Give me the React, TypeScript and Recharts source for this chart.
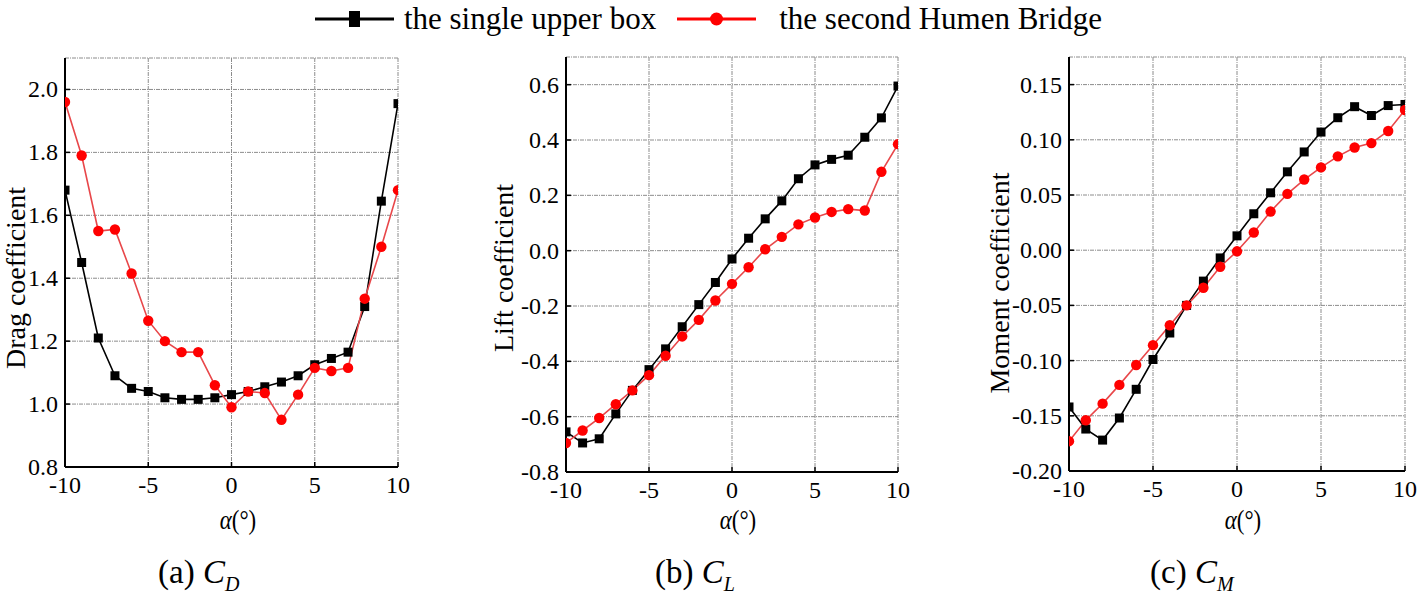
import React from 'react';
import { LineChart, Line, XAxis, YAxis, CartesianGrid, Label } from 'recharts';

// angle of attack (deg)
const alpha = [-10, -9, -8, -7, -6, -5, -4, -3, -2, -1, 0, 1, 2, 3, 4, 5, 6, 7, 8, 9, 10];

const dragBox = [1.68, 1.45, 1.21, 1.09, 1.05, 1.04, 1.02, 1.015, 1.015, 1.02, 1.03, 1.04, 1.055, 1.07, 1.09, 1.125, 1.145, 1.165, 1.31, 1.645, 1.955];
const dragBridge = [1.96, 1.79, 1.55, 1.555, 1.415, 1.265, 1.2, 1.165, 1.165, 1.06, 0.99, 1.04, 1.035, 0.95, 1.03, 1.115, 1.105, 1.115, 1.335, 1.5, 1.68];

const liftBox = [-0.655, -0.695, -0.68, -0.59, -0.505, -0.43, -0.355, -0.275, -0.195, -0.115, -0.03, 0.045, 0.115, 0.18, 0.26, 0.31, 0.33, 0.345, 0.41, 0.48, 0.595];
const liftBridge = [-0.695, -0.65, -0.605, -0.555, -0.505, -0.45, -0.38, -0.31, -0.25, -0.18, -0.12, -0.06, 0.005, 0.05, 0.095, 0.12, 0.14, 0.15, 0.145, 0.285, 0.385];

const momentBox = [-0.142, -0.162, -0.172, -0.152, -0.126, -0.099, -0.075, -0.05, -0.028, -0.007, 0.013, 0.033, 0.052, 0.071, 0.089, 0.107, 0.12, 0.13, 0.122, 0.131, 0.132];
const momentBridge = [-0.173, -0.154, -0.139, -0.122, -0.104, -0.086, -0.068, -0.05, -0.034, -0.015, -0.001, 0.016, 0.035, 0.051, 0.064, 0.075, 0.085, 0.093, 0.097, 0.108, 0.127];

const xMajor = [-10, -5, 0, 5, 10];
const xMinor = [-7.5, -2.5, 2.5, 7.5];

const dragMajor = [0.8, 1.0, 1.2, 1.4, 1.6, 1.8, 2.0];
const dragMinor = [0.9, 1.1, 1.3, 1.5, 1.7, 1.9];
const liftMajor = [-0.8, -0.6, -0.4, -0.2, 0.0, 0.2, 0.4, 0.6];
const liftMinor = [-0.7, -0.5, -0.3, -0.1, 0.1, 0.3, 0.5];
const momentMajor = [-0.2, -0.15, -0.1, -0.05, 0.0, 0.05, 0.1, 0.15];
const momentMinor = [-0.175, -0.125, -0.075, -0.025, 0.025, 0.075, 0.125];

const SERIF = '"Liberation Serif", "Times New Roman", serif';
const RED_LINE = '#e8474a';
const RED_DOT = '#ff0000';

const SquareDot = (p: any) => {
  if (p.cx == null || p.cy == null) return <g key={p.index} />;
  return <rect key={p.index} x={p.cx - 4.5} y={p.cy - 4.5} width={9} height={9} fill="#000" />;
};
const CircleDot = (p: any) => {
  if (p.cx == null || p.cy == null) return <g key={p.index} />;
  return <circle key={p.index} cx={p.cx} cy={p.cy} r={5.2} fill={RED_DOT} />;
};

type PanelProps = {
  left: number;
  width: number;
  box: number[];
  bridge: number[];
  domain: [number, number];
  major: number[];
  minor: number[];
  digits: number;
  yWidth: number;
  margin: { top: number; right: number; bottom: number; left: number };
  title: string;
  titleX: number;
  titleY: number;
  alphaX: number;
};

const Panel = (p: PanelProps) => {
  const data = alpha.map((a, i) => ({ a, box: p.box[i], bridge: p.bridge[i] }));
  const frame = { stroke: '#000', strokeWidth: 2 };
  const tl = { stroke: '#000', strokeWidth: 1.5 };
  const xTick = (t: any) => (
    <text x={t.x} y={t.y + 17} textAnchor="middle" fontFamily={SERIF} fontSize={24} fill="#000">
      {t.payload.value}
    </text>
  );
  const yTick = (t: any) => (
    <text x={t.x} y={t.y + 8} textAnchor="end" fontFamily={SERIF} fontSize={24} fill="#000">
      {Number(t.payload.value).toFixed(p.digits)}
    </text>
  );
  return (
    <div style={{ position: 'absolute', left: p.left, top: 0 }}>
      <LineChart width={p.width} height={540} data={data} margin={p.margin}>
        <CartesianGrid xAxisId={0} yAxisId={0} stroke="#8c8c8c" strokeDasharray="4 1 1 1" />
        <XAxis xAxisId={0} dataKey="a" type="number" domain={[-10, 10]} ticks={xMajor} interval={0}
          allowDataOverflow tickSize={-5} tickMargin={14} axisLine={frame} tickLine={tl} tick={xTick} height={30}>
          <Label content={() => (
            <text transform={`translate(${p.alphaX},529) scale(0.85,1)`} textAnchor="middle" fontFamily={SERIF} fontSize={27} fill="#000">
              <tspan fontStyle="italic">α</tspan>(°)
            </text>
          )} />
        </XAxis>
        <XAxis xAxisId="xm" type="number" domain={[-10, 10]} ticks={xMinor} interval={0}
          tickSize={-4} tick={false} axisLine={false} tickLine={tl} height={0} />
        <XAxis xAxisId="top" orientation="top" type="number" domain={[-10, 10]} ticks={[...xMajor, ...xMinor]} interval={0}
          tickSize={-5} tick={false} axisLine={frame} tickLine={tl} height={0} />
        <YAxis yAxisId={0} type="number" domain={p.domain} ticks={p.major} interval={0} allowDataOverflow
          tickSize={-5} tickMargin={12} axisLine={frame} tickLine={tl} tick={yTick} width={p.yWidth}>
          <Label content={() => (
            <text transform={`translate(${p.titleX},${p.titleY}) rotate(-90)`} textAnchor="middle"
              dominantBaseline="central" fontFamily={SERIF} fontSize={28} fill="#000">
              {p.title}
            </text>
          )} />
        </YAxis>
        <YAxis yAxisId="ym" type="number" domain={p.domain} ticks={p.minor} interval={0}
          tickSize={-4} tick={false} axisLine={false} tickLine={tl} width={0} />
        <YAxis yAxisId="right" orientation="right" type="number" domain={p.domain} ticks={[...p.major, ...p.minor]} interval={0}
          tickSize={-5} tick={false} axisLine={frame} tickLine={tl} width={0} />
        <Line xAxisId={0} yAxisId={0} dataKey="box" stroke="#000" strokeWidth={1.6} dot={SquareDot} isAnimationActive={false} />
        <Line xAxisId={0} yAxisId={0} dataKey="bridge" stroke={RED_LINE} strokeWidth={1.6} dot={CircleDot} isAnimationActive={false} />
      </LineChart>
    </div>
  );
};

const Caption = ({ x, tag, sub }: { x: number; tag: string; sub: string }) => (
  <div style={{ position: 'absolute', left: x, top: 553, fontFamily: SERIF, fontSize: 33, lineHeight: '38px', whiteSpace: 'nowrap', color: '#000' }}>
    ({tag}) <i>C</i><sub style={{ fontSize: 20, fontStyle: 'italic' }}>{sub}</sub>
  </div>
);

const App = () => (
  <div style={{ position: 'absolute', left: 0, top: 0, width: 1417, height: 594, background: '#fff', overflow: 'hidden' }}>
    <div style={{ position: 'absolute', left: 0, top: 0, width: 1417, display: 'flex', justifyContent: 'center', alignItems: 'center', height: 38, lineHeight: '38px', fontFamily: SERIF, fontSize: 31, color: '#000', whiteSpace: 'nowrap' }}>
      <svg width={79} height={20} style={{ marginRight: 10 }}>
        <line x1={0} y1={10} x2={79} y2={10} stroke="#000" strokeWidth={3} />
        <rect x={34} y={2} width={11} height={16} fill="#000" />
      </svg>
      <span>the single upper box</span>
      <svg width={79} height={20} style={{ marginLeft: 21, marginRight: 23 }}>
        <line x1={0} y1={10} x2={79} y2={10} stroke={RED_DOT} strokeWidth={3} />
        <circle cx={39.5} cy={10} r={6.5} fill={RED_DOT} />
      </svg>
      <span>the second Humen Bridge</span>
    </div>

    <Panel left={0} width={420} box={dragBox} bridge={dragBridge} domain={[0.8, 2.1]} major={dragMajor} minor={dragMinor}
      digits={1} yWidth={50} margin={{ top: 58, right: 22, bottom: 43, left: 15 }}
      title="Drag coefficient" titleX={15} titleY={278} alphaX={238} />
    <Panel left={470} width={450} box={liftBox} bridge={liftBridge} domain={[-0.8, 0.7]} major={liftMajor} minor={liftMinor}
      digits={1} yWidth={50} margin={{ top: 57, right: 22, bottom: 38, left: 46 }}
      title="Lift coefficient" titleX={33} titleY={268} alphaX={268} />
    <Panel left={960} width={457} box={momentBox} bridge={momentBridge} domain={[-0.2, 0.175]} major={momentMajor} minor={momentMinor}
      digits={2} yWidth={60} margin={{ top: 57, right: 12, bottom: 39, left: 49 }}
      title="Moment coefficient" titleX={39} titleY={283} alphaX={283} />

    <Caption x={158} tag="a" sub="D" />
    <Caption x={655} tag="b" sub="L" />
    <Caption x={1150} tag="c" sub="M" />
  </div>
);

export default App;
